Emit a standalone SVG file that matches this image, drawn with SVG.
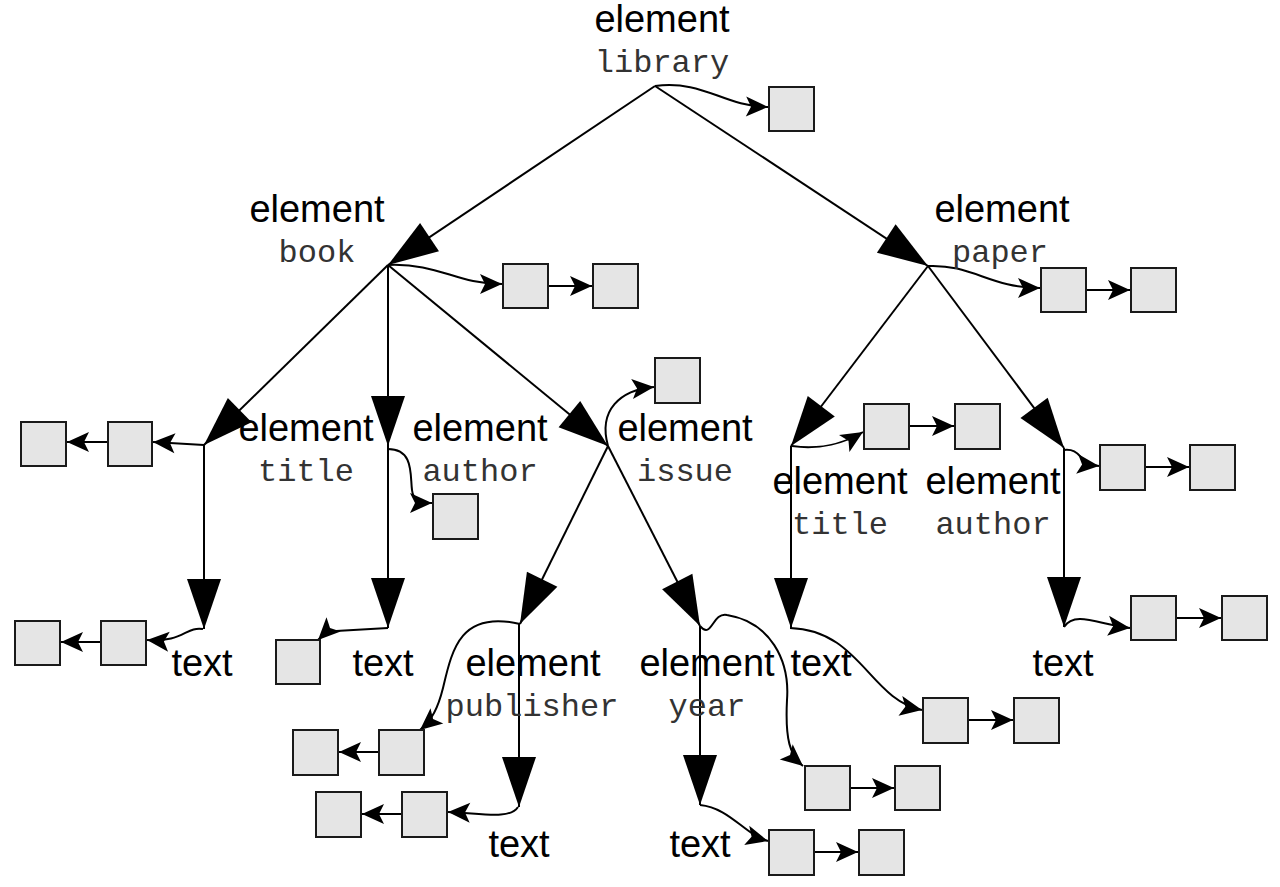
<svg xmlns="http://www.w3.org/2000/svg" width="1280" height="887" viewBox="0 0 1280 887">
<style>
.el{font-family:"Liberation Sans",Arial,sans-serif;font-size:38px;fill:#000;text-anchor:middle}
.nm{font-family:"Liberation Mono","Courier New",monospace;font-size:32px;fill:#333;text-anchor:middle}
.box{fill:#e5e5e5;stroke:#1a1a1a;stroke-width:2}
.tree{stroke:#000;stroke-width:2;fill:none;marker-end:url(#big)}
.ptr{stroke:#000;stroke-width:2;fill:none;marker-end:url(#small)}
</style>
<defs>
<marker id="big" markerUnits="userSpaceOnUse" markerWidth="50" markerHeight="34" refX="50" refY="17" orient="auto" overflow="visible">
<path d="M0,0 L50,17 L0,34 z" fill="#000"/>
</marker>
<marker id="small" markerUnits="userSpaceOnUse" markerWidth="22" markerHeight="20" refX="22" refY="10" orient="auto" overflow="visible">
<path d="M0,0 L22,10 L0,20 L5,10 z" fill="#000"/>
</marker>
</defs>
<rect width="1280" height="887" fill="#fff"/>
<g id="connectors">
<line class="tree" x1="655" y1="86" x2="388" y2="265"/>
<line class="tree" x1="655" y1="86" x2="928" y2="266"/>
<line class="tree" x1="388" y1="265" x2="204" y2="445"/>
<line class="tree" x1="388" y1="265" x2="388" y2="446"/>
<line class="tree" x1="388" y1="265" x2="608" y2="446"/>
<line class="tree" x1="204" y1="445" x2="204" y2="629"/>
<line class="tree" x1="388" y1="446" x2="388" y2="628"/>
<line class="tree" x1="608" y1="446" x2="520" y2="624"/>
<line class="tree" x1="608" y1="446" x2="700" y2="626"/>
<line class="tree" x1="519" y1="624" x2="519" y2="807"/>
<line class="tree" x1="700" y1="626" x2="700" y2="805"/>
<line class="tree" x1="928" y1="266" x2="791" y2="446"/>
<line class="tree" x1="928" y1="266" x2="1064" y2="448"/>
<line class="tree" x1="791" y1="446" x2="791" y2="628"/>
<line class="tree" x1="1064" y1="448" x2="1064" y2="627"/>
<path class="ptr" d="M655,86 C705,80 722,106 768,107"/>
<path class="ptr" d="M388,265 C440,263 455,284 502,284"/>
<path class="ptr" d="M548,286 L592,286"/>
<path class="ptr" d="M928,266 C972,264 990,288 1040,288"/>
<path class="ptr" d="M1086,290 L1130,290"/>
<path class="ptr" d="M204,445 L153,442"/>
<path class="ptr" d="M108,442 L67,442"/>
<path class="ptr" d="M203,629 C186,626 183,643 147,640"/>
<path class="ptr" d="M101,642 L61,642"/>
<path class="ptr" d="M388,628 L336,631 Q326,632 318,640"/>
<path class="ptr" d="M388,449 C414,449 410,475 412,490 C413,500 420,503 432,503"/>
<path class="ptr" d="M608,446 C598,410 620,390 654,387"/>
<path class="ptr" d="M520,624 C460,610 452,650 443,688 C438,708 432,720 420,730"/>
<path class="ptr" d="M379,752 L339,752"/>
<path class="ptr" d="M518,807 C510,820 480,813 448,812"/>
<path class="ptr" d="M402,814 L362,814"/>
<path class="ptr" d="M700,626 C712,640 712,612 727,615 C770,622 790,660 787,700 C785,740 790,755 803,766"/>
<path class="ptr" d="M850,788 L894,788"/>
<path class="ptr" d="M700,805 C730,808 745,835 768,841"/>
<path class="ptr" d="M814,852 L858,852"/>
<path class="ptr" d="M792,446 C820,450 845,443 863,432"/>
<path class="ptr" d="M909,426 L954,426"/>
<path class="ptr" d="M1064,450 C1082,448 1078,464 1099,466"/>
<path class="ptr" d="M1145,467 L1189,467"/>
<path class="ptr" d="M790,628 C860,630 870,700 922,710"/>
<path class="ptr" d="M968,720 L1013,720"/>
<path class="ptr" d="M1064,627 C1075,610 1100,625 1130,628"/>
<path class="ptr" d="M1176,618 L1221,618"/>
</g>
<g id="library"><text class="el" x="662" y="32">element</text><text class="nm" x="662" y="72">library</text></g>
<g id="book"><text class="el" x="317" y="222">element</text><text class="nm" x="317" y="262">book</text></g>
<g id="paper"><text class="el" x="1002" y="222">element</text><text class="nm" x="1000" y="262">paper</text></g>
<g id="book-title"><text class="el" x="306" y="441">element</text><text class="nm" x="306" y="481">title</text></g>
<g id="book-author"><text class="el" x="480" y="441">element</text><text class="nm" x="480" y="481">author</text></g>
<g id="issue"><text class="el" x="685" y="441">element</text><text class="nm" x="685" y="481">issue</text></g>
<g id="paper-title"><text class="el" x="840" y="494">element</text><text class="nm" x="840" y="534">title</text></g>
<g id="paper-author"><text class="el" x="993" y="494">element</text><text class="nm" x="993" y="534">author</text></g>
<g id="publisher"><text class="el" x="533" y="676">element</text><text class="nm" x="532" y="716">publisher</text></g>
<g id="year"><text class="el" x="707" y="676">element</text><text class="nm" x="707" y="716">year</text></g>
<g id="text-book-title"><text class="el" x="202" y="676">text</text></g>
<g id="text-book-author"><text class="el" x="383" y="676">text</text></g>
<g id="text-publisher"><text class="el" x="519" y="857">text</text></g>
<g id="text-year"><text class="el" x="700" y="857">text</text></g>
<g id="text-paper-title"><text class="el" x="821" y="676">text</text></g>
<g id="text-paper-author"><text class="el" x="1063" y="676">text</text></g>
<g id="boxes">
<rect class="box" x="769" y="87" width="45" height="44"/>
<rect class="box" x="503" y="264" width="45" height="44"/>
<rect class="box" x="593" y="264" width="45" height="44"/>
<rect class="box" x="1041" y="268" width="45" height="44"/>
<rect class="box" x="1131" y="268" width="45" height="44"/>
<rect class="box" x="21" y="422" width="45" height="44"/>
<rect class="box" x="108" y="422" width="44" height="44"/>
<rect class="box" x="15" y="621" width="45" height="44"/>
<rect class="box" x="101" y="621" width="45" height="44"/>
<rect class="box" x="276" y="640" width="44" height="44"/>
<rect class="box" x="433" y="494" width="45" height="45"/>
<rect class="box" x="655" y="358" width="45" height="45"/>
<rect class="box" x="293" y="730" width="45" height="45"/>
<rect class="box" x="379" y="730" width="45" height="45"/>
<rect class="box" x="316" y="792" width="45" height="45"/>
<rect class="box" x="402" y="792" width="45" height="45"/>
<rect class="box" x="805" y="766" width="45" height="44"/>
<rect class="box" x="895" y="766" width="45" height="44"/>
<rect class="box" x="769" y="830" width="45" height="45"/>
<rect class="box" x="859" y="830" width="45" height="45"/>
<rect class="box" x="864" y="404" width="45" height="45"/>
<rect class="box" x="955" y="404" width="45" height="45"/>
<rect class="box" x="1100" y="445" width="45" height="45"/>
<rect class="box" x="1190" y="445" width="45" height="45"/>
<rect class="box" x="923" y="698" width="45" height="45"/>
<rect class="box" x="1014" y="698" width="45" height="45"/>
<rect class="box" x="1131" y="596" width="45" height="44"/>
<rect class="box" x="1222" y="596" width="45" height="44"/>
</g>
</svg>
